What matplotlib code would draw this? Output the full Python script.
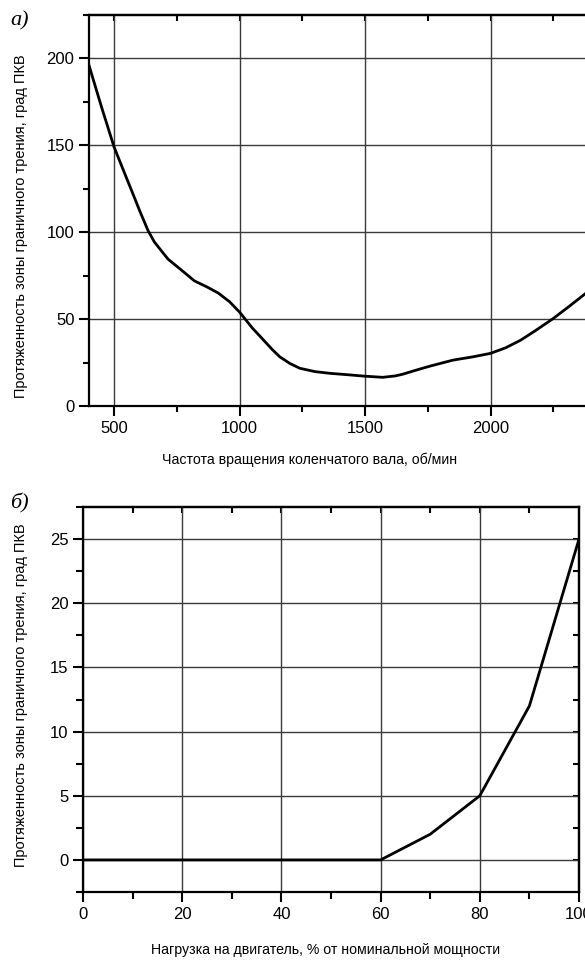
import matplotlib
matplotlib.use("Agg")
import matplotlib.pyplot as plt

plt.rcParams['font.family'] = ['Liberation Sans Narrow', 'Liberation Sans', 'DejaVu Sans']

# данные: а) зависимость от частоты вращения
rpm = [400, 450, 500, 550, 585, 600, 635, 660, 690, 715, 770, 820, 870, 915, 960, 1000,
       1050, 1095, 1130, 1160, 1200, 1240, 1300, 1360, 1430, 1495, 1570, 1620, 1650,
       1700, 1760, 1850, 1930, 2000, 2060, 2120, 2180, 2250, 2310, 2370, 2400]
zone_rpm = [196, 172, 149, 131, 118.5, 113, 101, 94.5, 89, 84.5, 78, 72, 68.5, 65, 60, 54,
            45, 38, 32.5, 28.3, 24.5, 21.7, 19.8, 18.8, 18, 17.2, 16.5, 17.3, 18.3,
            20.5, 23, 26.4, 28.3, 30.3, 33.5, 37.9, 43.5, 50.4, 57, 63.8, 67.3]

# данные: б) зависимость от нагрузки
load = [0, 20, 40, 60, 70, 80, 90, 100]
zone_load = [0, 0, 0, 0, 2, 5, 12, 25]

ylabel = "Протяженность зоны граничного трения, град ПКВ"
grid_kw = dict(color="#3a3a3a", linewidth=1.0)

fig = plt.figure(figsize=(5.85, 9.6), dpi=100)

# ---------- а) ----------
ax1 = fig.add_axes([89/585, 1-406/960, 502/585, 391/960])
ax1.plot(rpm, zone_rpm, color="black", linewidth=2.0, solid_joinstyle="round")
ax1.set_xlim(400, 2400)
ax1.set_ylim(0, 225)
ax1.set_xticks([500, 1000, 1500, 2000])
ax1.set_xticks([750, 1250, 1750, 2250], minor=True)
ax1.set_yticks([0, 50, 100, 150, 200])
ax1.set_yticks([25, 75, 125, 175, 225], minor=True)
ax1.grid(True, which="major", **grid_kw)
ax1.tick_params(which="both", direction="out", labelsize=12, width=1.5)
ax1.tick_params(which="major", length=7)
ax1.tick_params(which="minor", length=4)
top1 = ax1.secondary_xaxis("top")
top1.set_xticks([500, 750, 1000, 1250, 1500, 1750, 2000, 2250])
top1.tick_params(direction="in", length=4, width=1.5, labeltop=False)
right1 = ax1.secondary_yaxis("right")
right1.set_yticks([25, 50, 75, 100, 125, 150, 175, 200])
right1.tick_params(direction="in", length=4, width=1.5, labelright=False)
for sp in list(ax1.spines.values()) + [top1.spines["top"], right1.spines["right"]]:
    sp.set_linewidth(1.6)
ax1.set_ylabel(ylabel, fontsize=10.5)
ax1.yaxis.set_label_coords(-0.122, 0.46)
fig.text(310/585, 1-460/960, "Частота вращения коленчатого вала, об/мин",
         ha="center", va="center", fontsize=10.2)
fig.text(10/585, 1-21/960, "а)", fontsize=16, style="italic",
         family=["Liberation Serif", "DejaVu Serif"], va="center")

# ---------- б) ----------
ax2 = fig.add_axes([83/585, 1-892/960, 496/585, 385/960])
ax2.plot(load, zone_load, color="black", linewidth=2.0, solid_joinstyle="round")
ax2.set_xlim(0, 100)
ax2.set_ylim(-2.5, 27.5)
ax2.set_xticks([0, 20, 40, 60, 80, 100])
ax2.set_xticklabels(["0", "20", "40", "60", "80", "100"])
ax2.set_xticks([10, 30, 50, 70, 90], minor=True)
ax2.set_yticks([0, 5, 10, 15, 20, 25])
ax2.set_yticks([-2.5, 2.5, 7.5, 12.5, 17.5, 22.5, 27.5], minor=True)
ax2.grid(True, which="major", **grid_kw)
ax2.tick_params(which="both", direction="out", labelsize=12, width=1.5)
ax2.tick_params(which="major", length=7)
ax2.tick_params(which="minor", length=5)
top2 = ax2.secondary_xaxis("top")
top2.set_xticks([10, 20, 30, 40, 50, 60, 70, 80, 90])
top2.tick_params(direction="in", length=4, width=1.5, labeltop=False)
right2 = ax2.secondary_yaxis("right")
right2.set_yticks([0, 2.5, 5, 7.5, 10, 12.5, 15, 17.5, 20, 22.5, 25])
right2.tick_params(direction="in", length=4, width=1.5, labelright=False)
for sp in list(ax2.spines.values()) + [top2.spines["top"], right2.spines["right"]]:
    sp.set_linewidth(1.6)
ax2.set_ylabel(ylabel, fontsize=10.5)
ax2.yaxis.set_label_coords(-0.111, 0.51)
fig.text(326/585, 1-950/960, "Нагрузка на двигатель, % от номинальной мощности",
         ha="center", va="center", fontsize=10.2)
fig.text(10/585, 1-503/960, "б)", fontsize=16, style="italic",
         family=["Liberation Serif", "DejaVu Serif"], va="center")

fig.savefig("out.png", dpi=100)
